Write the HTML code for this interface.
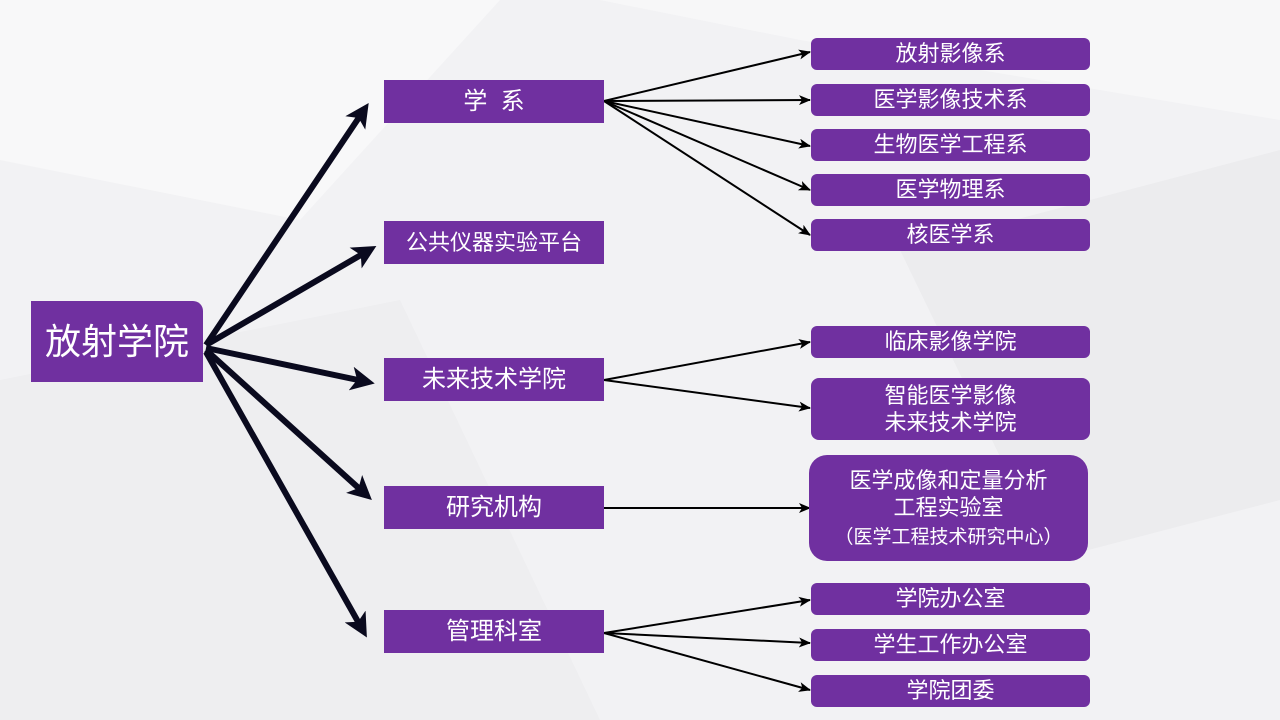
<!DOCTYPE html>
<html><head><meta charset="utf-8"><style>
body{margin:0;width:1280px;height:720px;overflow:hidden;background:#f2f2f4;font-family:"Liberation Sans","Noto Sans CJK SC",sans-serif;}
.b{position:absolute;background:#7030a0;color:#fff;display:flex;align-items:center;justify-content:center;text-align:center;line-height:1.25;}
.l2{left:384px;width:220px;height:43px;font-size:24px;}
.l3{left:811px;width:279px;height:32px;font-size:22px;border-radius:6px;}
</style></head><body>
<svg width="1280" height="720" style="position:absolute;left:0;top:0">
<defs>
<marker id="t" markerWidth="4" markerHeight="4" refX="2" refY="2" orient="auto" markerUnits="strokeWidth"><path d="M0,0 L4,2 L0,4 L1,2 z" fill="#0a0a1e"/></marker>
<marker id="n" markerWidth="12" markerHeight="10" refX="11" refY="5" orient="auto" markerUnits="userSpaceOnUse"><path d="M0,0 L12,5 L0,10 L3,5 z" fill="#000"/></marker>
</defs>
<polygon points="0,0 500,0 300,220 0,160" fill="#f8f8f9"/>
<polygon points="0,380 400,300 600,720 0,720" fill="#eeeef0"/>
<polygon points="900,250 1280,150 1280,500 1050,560" fill="#ececee"/>
<polygon points="600,0 1280,0 1280,120 800,40" fill="#f7f7f8"/>
<g stroke="#0a0a1e" stroke-width="6" marker-end="url(#t)">
<line x1="206" y1="345" x2="362" y2="113"/>
<line x1="206" y1="345" x2="366" y2="252"/>
<line x1="206" y1="348" x2="363" y2="381"/>
<line x1="206" y1="350" x2="363" y2="492"/>
<line x1="206" y1="352" x2="361" y2="627"/>
</g>
<g stroke="#000" stroke-width="2" marker-end="url(#n)">
<line x1="604" y1="101" x2="810" y2="52"/>
<line x1="604" y1="101" x2="810" y2="100"/>
<line x1="604" y1="101" x2="810" y2="146"/>
<line x1="604" y1="101" x2="810" y2="190"/>
<line x1="604" y1="101" x2="810" y2="235"/>
<line x1="604" y1="380" x2="810" y2="342"/>
<line x1="604" y1="380" x2="810" y2="408"/>
<line x1="604" y1="508" x2="810" y2="508"/>
<line x1="604" y1="633" x2="810" y2="600"/>
<line x1="604" y1="633" x2="810" y2="643"/>
<line x1="604" y1="633" x2="810" y2="690"/>
</g>
</svg>
<div class="b" style="left:31px;top:301px;width:172px;height:81px;font-size:36px;border-radius:0 10px 0 0;">放射学院</div>
<div class="b l2" style="top:80px;">学&nbsp;&nbsp;系</div>
<div class="b l2" style="top:221px;font-size:22px;">公共仪器实验平台</div>
<div class="b l2" style="top:358px;">未来技术学院</div>
<div class="b l2" style="top:486px;">研究机构</div>
<div class="b l2" style="top:610px;">管理科室</div>
<div class="b l3" style="top:38px;">放射影像系</div>
<div class="b l3" style="top:84px;">医学影像技术系</div>
<div class="b l3" style="top:129px;">生物医学工程系</div>
<div class="b l3" style="top:174px;">医学物理系</div>
<div class="b l3" style="top:219px;">核医学系</div>
<div class="b l3" style="top:326px;">临床影像学院</div>
<div class="b l3" style="top:378px;height:62px;border-radius:8px;">智能医学影像<br>未来技术学院</div>
<div class="b l3" style="top:455px;height:106px;border-radius:18px;left:809px;width:279px;"><div>医学成像和定量分析<br>工程实验室<br><span style="font-size:19px">（医学工程技术研究中心）</span></div></div>
<div class="b l3" style="top:583px;">学院办公室</div>
<div class="b l3" style="top:629px;">学生工作办公室</div>
<div class="b l3" style="top:675px;">学院团委</div>
</body></html>
